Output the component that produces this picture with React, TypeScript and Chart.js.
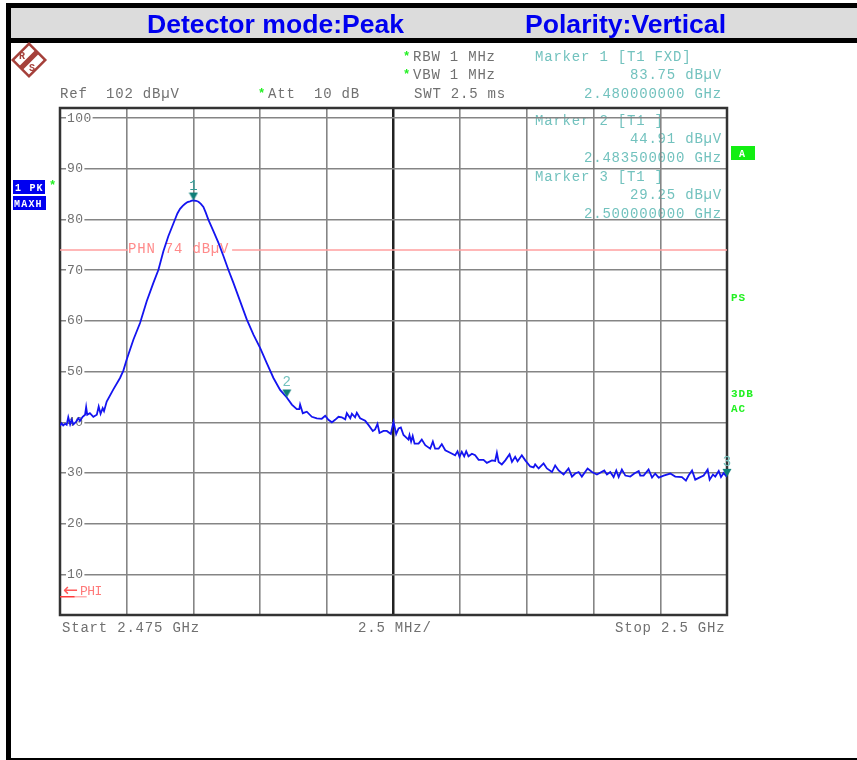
import React, { useEffect, useRef } from "react";
import { Chart, registerables } from "chart.js";

Chart.register(...registerables);

const yTicks = [10, 20, 30, 40, 50, 60, 70, 80, 90, 100];
const xGridMHz = [0, 2.5, 5, 7.5, 10, 12.5, 15, 17.5, 20, 22.5, 25];

const traceMHz = [
  0, 0.06, 0.12, 0.19, 0.25, 0.31, 0.38, 0.44, 0.5, 0.6, 0.69, 0.75, 0.85, 0.94, 0.98, 1.02, 1.12, 1.25, 1.38, 1.45, 1.52, 1.6, 1.65, 1.75,
  2, 2.25, 2.375, 2.5, 2.75, 3, 3.25, 3.5, 3.69, 3.875, 4.06, 4.31, 4.4, 4.5, 4.6, 4.69, 4.78, 4.875, 4.94, 5, 5.1, 5.19, 5.28, 5.375, 5.46, 5.56, 5.75, 5.94, 6.125, 6.31, 6.5, 6.75, 7, 7.25, 7.5, 7.75, 8, 8.25, 8.5, 8.69, 8.875, 8.97,
  9, 9.1, 9.25, 9.44, 9.625, 9.81, 9.94, 10.06, 10.19, 10.31, 10.44, 10.56, 10.69, 10.75, 10.88, 10.94, 11.06, 11.125, 11.25, 11.44, 11.56, 11.725, 11.81, 11.9, 11.975, 12.125, 12.25, 12.4,
  12.5, 12.6, 12.69, 12.775, 12.875, 13.06, 13.1, 13.16, 13.22, 13.29, 13.44, 13.56, 13.69, 13.875, 13.975, 14.06, 14.19, 14.31, 14.44, 14.625, 14.81, 14.9, 14.975, 15.06, 15.15, 15.225, 15.31, 15.44, 15.56, 15.69, 15.875, 16, 16.19, 16.31, 16.375, 16.44, 16.56, 16.69, 16.85, 16.94, 17.06, 17.15, 17.31, 17.44, 17.625, 17.75, 17.81, 17.94, 18.125, 18.25, 18.44, 18.56, 18.69, 18.875, 19.06, 19.19, 19.31, 19.44, 19.56, 19.775, 19.94, 20.125, 20.4, 20.5, 20.625, 20.75, 20.85, 20.94, 21.06, 21.19, 21.375, 21.525, 21.69, 21.75, 21.875, 22.06, 22.19, 22.31, 22.44, 22.625, 22.875, 23.06, 23.31, 23.46, 23.56, 23.69, 23.81, 24, 24.125, 24.275, 24.35, 24.475, 24.56, 24.69, 24.775, 24.875, 25,
];

const traceDb = [
  39.3, 39.8, 39.4, 39.7, 39.5, 41, 39.6, 40.5, 39.6, 40.1, 40.8, 40.3, 41.1, 41.5, 43, 41.5, 41.8, 41.1, 41.5, 43.1, 41.7, 42.8, 42.2, 44.1,
  46.5, 48.75, 50.2, 52.4, 56.3, 59.6, 63.9, 67.5, 70.1, 73.75, 76.7, 80, 81.2, 82.1, 82.7, 83.1, 83.45, 83.6, 83.72, 83.75, 83.7, 83.5, 83.1, 82.5, 81.4, 80, 77.7, 75.4, 72.8, 70.1, 67.5, 63.9, 60.3, 57.3, 54.7, 51.7, 48.75, 46.4, 44.91, 43.5, 42.6, 42.6,
  43.5, 41.8, 42.1, 41.1, 40.8, 40.7, 41.3, 40.5, 40, 40.5, 41.1, 41, 40.6, 41.8, 40.8, 41.7, 41, 41.9, 40.8, 40.3, 39.5, 38.3, 38.6, 39.7, 37.9, 38.3, 38.3, 37.7,
  40.1, 37.7, 38.8, 39, 37.5, 36.6, 37.5, 36.2, 37.3, 35.8, 35.8, 36.6, 35.5, 34.8, 36.2, 34.8, 34.8, 35.7, 34.5, 34, 33.5, 34.3, 33.2, 34.2, 33.3, 34.3, 33.3, 33.8, 33.5, 32.6, 32.6, 32, 32.5, 32.4, 34, 32.2, 31.7, 32.5, 33.7, 32.2, 33.2, 32.3, 33.5, 32.5, 31.3, 31.1, 31.7, 30.9, 31.9, 30.9, 30.2, 31.5, 30.5, 29.7, 30.9, 29.3, 29.9, 30.2, 29.3, 30.9, 30.2, 29.7, 30.5, 29.7, 30.2, 29.2, 30.5, 29.2, 30.7, 29.5, 29.3, 29.9, 30.4, 29.5, 29.5, 30.7, 29.1, 29.9, 29.1, 29.5, 29.9, 29.3, 29.2, 28.5, 29.5, 30.5, 28.7, 29.2, 29.5, 30.7, 28.7, 29.7, 29.3, 30.4, 29.2, 30, 29.25,
];

const markerMHz = [5, 8.5, 25];
const markerDb = [83.75, 44.91, 29.25];
const markerNames = ["1", "2", "3"];

const limitMHz = [0, 2.55, 2.55, 6.45, 25];
const limitDb = [74, 74, null, 74, 74];
const phiMHz = [0, 0.55];
const phiPaleMHz = [0.55, 1];
const phiDb = [5.6, 5.6];

const titleLeft = "Detector mode:Peak";
const titleRight = "Polarity:Vertical";
const GRAY = "#707070";
const TEAL = "#72c2be";
const GREEN = "#22f022";
const MONO = '"Liberation Mono", monospace';

function put(ctx: any, s: string, x: number, y: number, color: string, opt: any = {}) {
  ctx.save();
  ctx.font = opt.font || `14px ${MONO}`;
  ctx.letterSpacing = opt.spacing || "0.8px";
  ctx.fillStyle = color;
  ctx.textAlign = opt.align || "left";
  ctx.textBaseline = "alphabetic";
  ctx.fillText(s, x, y);
  ctx.restore();
}

const backdropPlugin = {
  id: "panel",
  beforeLayout(chart: any) {
    chart.ctx.letterSpacing = "0.4px";
  },
  beforeDraw(chart: any) {
    const ctx = chart.ctx;
    ctx.save();
    ctx.fillStyle = "#fff";
    ctx.fillRect(0, 0, 857, 760);
    ctx.fillStyle = "#000";
    ctx.fillRect(6, 3, 851, 40);
    ctx.fillRect(6, 3, 5, 757);
    ctx.fillRect(6, 758, 851, 2);
    ctx.fillStyle = "#dcdcdc";
    ctx.fillRect(11, 8, 846, 30);
    ctx.restore();

    const bold = 'bold 26.6px "Liberation Sans", Arial, sans-serif';
    put(ctx, titleLeft, 147, 33, "#0000f0", { font: bold, spacing: "0px" });
    put(ctx, titleRight, 525, 33, "#0000f0", { font: bold, spacing: "0px" });

    ctx.save();
    ctx.translate(29, 60);
    ctx.rotate(Math.PI / 4);
    ctx.strokeStyle = "#a5403a";
    ctx.lineWidth = 2.5;
    ctx.strokeRect(-11.5, -11.5, 23, 23);
    ctx.fillStyle = "#a5403a";
    ctx.fillRect(-2.5, -11.5, 5, 23);
    ctx.restore();
    put(ctx, "R", 19, 59, "#a5403a", { font: `bold 10px ${MONO}`, spacing: "0px" });
    put(ctx, "S", 29, 71, "#a5403a", { font: `bold 10px ${MONO}`, spacing: "0px" });

    put(ctx, "Ref  102 dBµV", 60, 98, GRAY);
    put(ctx, "Att  10 dB", 268, 98, GRAY);
    put(ctx, "*", 258, 97, GREEN, { font: `bold 12px ${MONO}` });
    put(ctx, "RBW 1 MHz", 413, 61, GRAY);
    put(ctx, "VBW 1 MHz", 413, 79, GRAY);
    put(ctx, "SWT 2.5 ms", 414, 98, GRAY);
    put(ctx, "*", 403, 60, GREEN, { font: `bold 12px ${MONO}` });
    put(ctx, "*", 403, 78, GREEN, { font: `bold 12px ${MONO}` });

    put(ctx, "Marker 1 [T1 FXD]", 535, 61, TEAL);
    put(ctx, "83.75 dBµV", 722, 79, TEAL, { align: "right" });
    put(ctx, "2.480000000 GHz", 722, 98, TEAL, { align: "right" });
    put(ctx, "Marker 2 [T1 ]", 535, 125, TEAL);
    put(ctx, "44.91 dBµV", 722, 143, TEAL, { align: "right" });
    put(ctx, "2.483500000 GHz", 722, 162, TEAL, { align: "right" });
    put(ctx, "Marker 3 [T1 ]", 535, 181, TEAL);
    put(ctx, "29.25 dBµV", 722, 199, TEAL, { align: "right" });
    put(ctx, "2.500000000 GHz", 722, 218, TEAL, { align: "right" });

    ctx.fillStyle = "#0000f0";
    ctx.fillRect(13, 180, 32, 14);
    ctx.fillRect(13, 196, 33, 14);
    put(ctx, "1 PK", 15, 191, "#fff", { font: `bold 10px ${MONO}`, spacing: "1.2px" });
    put(ctx, "MAXH", 14, 207, "#fff", { font: `bold 10px ${MONO}`, spacing: "1.2px" });
    put(ctx, "*", 49, 189, GREEN, { font: `bold 12px ${MONO}` });

    ctx.fillStyle = "#12ee12";
    ctx.fillRect(731, 146, 24, 14);
    put(ctx, "A", 739, 157, "#fff", { font: `bold 10px ${MONO}`, spacing: "0px" });
    put(ctx, "PS", 731, 301, GREEN, { font: `bold 11px ${MONO}`, spacing: "1px" });
    put(ctx, "3DB", 731, 397, GREEN, { font: `bold 11px ${MONO}`, spacing: "1px" });
    put(ctx, "AC", 731, 412, GREEN, { font: `bold 11px ${MONO}`, spacing: "1px" });

    put(ctx, "Start 2.475 GHz", 62, 632, GRAY);
    put(ctx, "2.5 MHz/", 358, 632, GRAY);
    put(ctx, "Stop 2.5 GHz", 615, 632, GRAY);
    chart.ctx.letterSpacing = "0.4px";
  },
  beforeDatasetsDraw(chart: any) {
    const { x, y } = chart.scales;
    const ctx = chart.ctx;
    put(ctx, "PHN 74 dBµV", x.getPixelForValue(limitMHz[1]), y.getPixelForValue(74) + 3, "#ff8a8a");
    put(ctx, "←", 63, 596, "#ff5a5a", { font: `18px "DejaVu Sans"`, spacing: "0px" });
    put(ctx, "PHI", 80, 595, "#ff7a7a", { font: `13px ${MONO}`, spacing: "-0.5px" });
    const area = chart.chartArea;
    ctx.save();
    ctx.strokeStyle = "#333";
    ctx.lineWidth = 2.5;
    ctx.strokeRect(area.left, area.top, area.right - area.left, area.bottom - area.top);
    ctx.restore();
    chart.ctx.letterSpacing = "0px";
  },
  afterDatasetsDraw(chart: any) {
    const { x, y } = chart.scales;
    markerNames.forEach((name, i) => {
      put(
        chart.ctx,
        name,
        x.getPixelForValue(markerMHz[i]),
        y.getPixelForValue(markerDb[i]) - 11,
        i === 0 ? "#2f9a94" : TEAL,
        { align: "center", spacing: "0px", font: `14px ${MONO}` }
      );
    });
  },
};

function markerImage() {
  const c = document.createElement("canvas");
  c.width = 10;
  c.height = 18;
  const g = c.getContext("2d") as CanvasRenderingContext2D;
  g.fillStyle = "#0f7f78";
  g.beginPath();
  g.moveTo(0.5, 1);
  g.lineTo(9.5, 1);
  g.lineTo(5, 9);
  g.closePath();
  g.fill();
  return c;
}

export default function App() {
  const ref = useRef<HTMLCanvasElement>(null);
  useEffect(() => {
    const chart = new Chart(ref.current as HTMLCanvasElement, {
      type: "line",
      data: {
        datasets: [
          {
            label: "Markers",
            data: markerMHz.map((v, i) => ({ x: v, y: markerDb[i] })),
            showLine: false,
            pointStyle: markerImage() as any,
            pointRadius: 5,
            clip: false as any,
            order: 0,
          },
          {
            label: "Trace 1",
            data: traceMHz.map((v, i) => ({ x: v, y: traceDb[i] })),
            borderColor: "#1414f0",
            borderWidth: 1.8,
            pointRadius: 0,
            tension: 0,
            order: 1,
          },
          {
            label: "PHN",
            data: limitMHz.map((v, i) => ({ x: v, y: limitDb[i] as any })),
            borderColor: "#ffa0a0",
            borderWidth: 1.5,
            pointRadius: 0,
            spanGaps: false,
            order: 2,
          },
          {
            label: "PHI",
            data: phiMHz.map((v, i) => ({ x: v, y: phiDb[i] })),
            borderColor: "#ff3a3a",
            borderWidth: 1.5,
            pointRadius: 0,
            order: 2,
          },
          {
            label: "PHI tail",
            data: phiPaleMHz.map((v, i) => ({ x: v, y: phiDb[i] })),
            borderColor: "#ffb0b0",
            borderWidth: 1.5,
            pointRadius: 0,
            order: 2,
          },
        ],
      },
      options: {
        responsive: false,
        animation: false,
        layout: { padding: { left: 60, right: 130, top: 108, bottom: 145 } },
        plugins: { legend: { display: false }, tooltip: { enabled: false } },
        scales: {
          x: {
            type: "linear",
            min: 0,
            max: 25,
            afterBuildTicks: (s: any) => {
              s.ticks = xGridMHz.map((value) => ({ value }));
            },
            ticks: { display: false },
            border: { display: false },
            grid: {
              drawTicks: false,
              color: (c: any) => (c.tick && c.tick.value === 12.5 ? "#222" : "#858585"),
              lineWidth: (c: any) => (c.tick && c.tick.value === 12.5 ? 2.5 : 1.6),
            },
          },
          y: {
            min: 2,
            max: 102,
            afterFit: (s: any) => {
              s.width = 0;
            },
            afterBuildTicks: (s: any) => {
              s.ticks = yTicks.map((value) => ({ value }));
            },
            ticks: {
              mirror: true,
              padding: 7,
              color: GRAY,
              font: { family: "Liberation Mono", size: 13 },
              showLabelBackdrop: true,
              backdropColor: "#fff",
              backdropPadding: 1,
            },
            border: { display: false },
            grid: { drawTicks: false, color: "#858585", lineWidth: 1.6 },
          },
        },
      },
      plugins: [backdropPlugin as any],
    });
    return () => chart.destroy();
  }, []);
  return (
    <div style={{ position: "fixed", left: 0, top: 0, width: 857, height: 760, background: "#fff" }}>
      <canvas ref={ref} width={857} height={760} style={{ display: "block", filter: "blur(0.45px)" }} />
    </div>
  );
}
